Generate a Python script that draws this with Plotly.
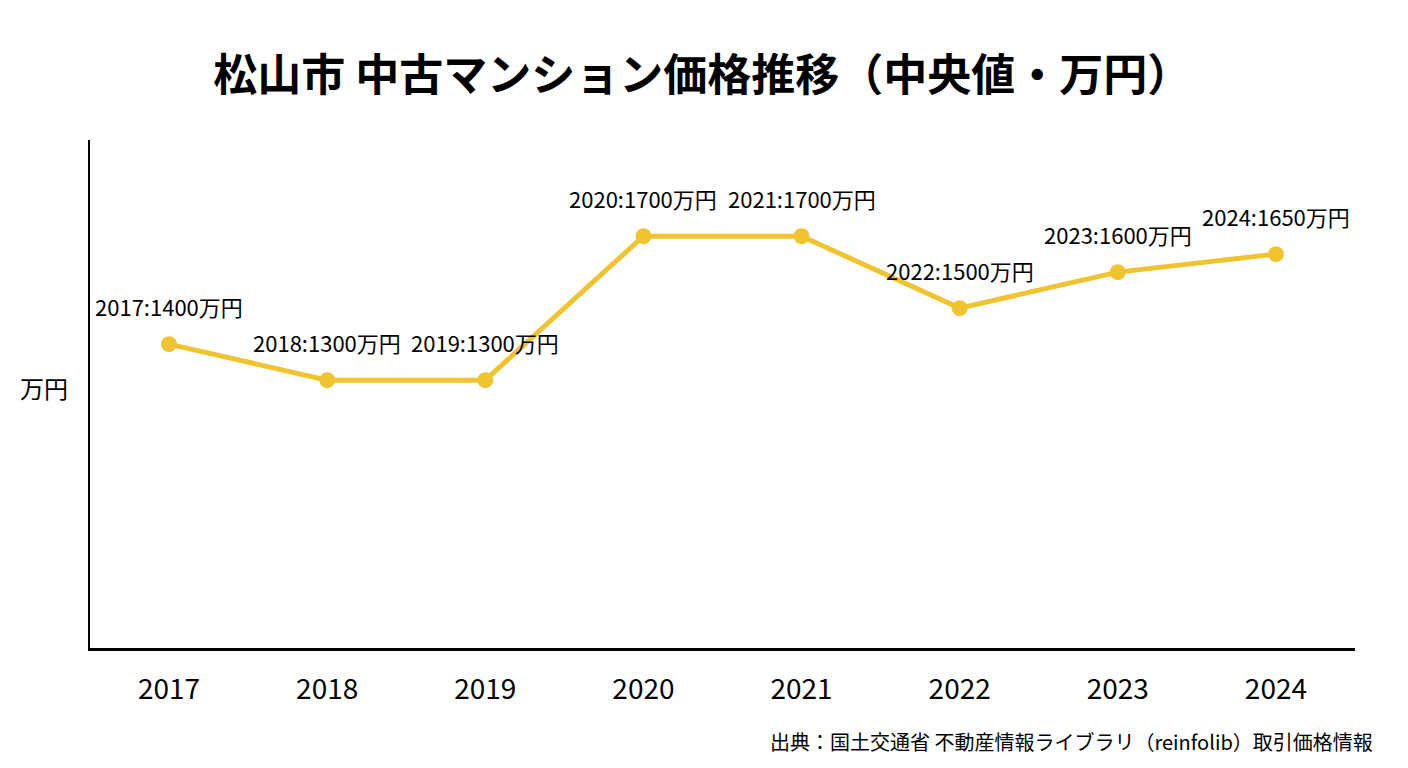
import plotly.graph_objects as go

# median price of used condos, Matsuyama (万円)
years = ["2017", "2018", "2019", "2020", "2021", "2022", "2023", "2024"]
prices = [1400, 1300, 1300, 1700, 1700, 1500, 1600, 1650]

title_text = "松山市 中古マンション価格推移（中央値・万円）"
source_text = "出典：国土交通省 不動産情報ライブラリ（reinfolib）取引価格情報"

FONT = "Noto Sans CJK JP"
LINE_COLOR = "#F0C330"

fig = go.Figure()

fig.add_trace(go.Scatter(
    x=years,
    y=prices,
    mode="lines+markers",
    line=dict(color=LINE_COLOR, width=5),
    marker=dict(color=LINE_COLOR, size=16),
    showlegend=False,
))

# value labels above each point (x by category index, "2017" would be read as a position)
for i, (yr, p) in enumerate(zip(years, prices)):
    fig.add_annotation(
        x=i, y=p,
        text=f"{yr}:{p}万円",
        showarrow=False,
        yshift=38,
        font=dict(family=FONT, size=22, color="black"),
    )

# y axis title (horizontal) and source note
fig.add_annotation(
    xref="paper", yref="paper", x=-0.036, y=0.512,
    text="万円", showarrow=False, xanchor="center", yanchor="middle",
    font=dict(family=FONT, size=24, color="black"),
)
fig.add_annotation(
    xref="paper", yref="paper", x=1.016, y=-0.185,
    text=source_text, showarrow=False, xanchor="right", yanchor="middle",
    font=dict(family=FONT, size=20, color="black"),
)

# page body has an 8px margin, so everything is pulled up/left by 8px
fig.update_layout(
    width=1408,
    height=768,
    margin=dict(l=82, r=61, t=132, b=128),
    paper_bgcolor="white",
    plot_bgcolor="white",
    title=dict(
        text=f"<b>{title_text}</b>",
        x=0.493, xref="container", xanchor="center",
        y=0.912, yref="container", yanchor="middle",
        font=dict(family=FONT, size=44, color="black"),
    ),
    xaxis=dict(
        type="category",
        range=[-0.5, 7.5],
        showline=True, linecolor="black", linewidth=2.5,
        showgrid=False, zeroline=False, ticks="",
        ticklabelstandoff=15,
        tickfont=dict(family=FONT, size=28, color="black"),
    ),
    yaxis=dict(
        range=[556, 1967],
        showline=True, linecolor="black", linewidth=2,
        showgrid=False, zeroline=False, ticks="",
        showticklabels=False,
    ),
)

fig.write_html("out.html")
